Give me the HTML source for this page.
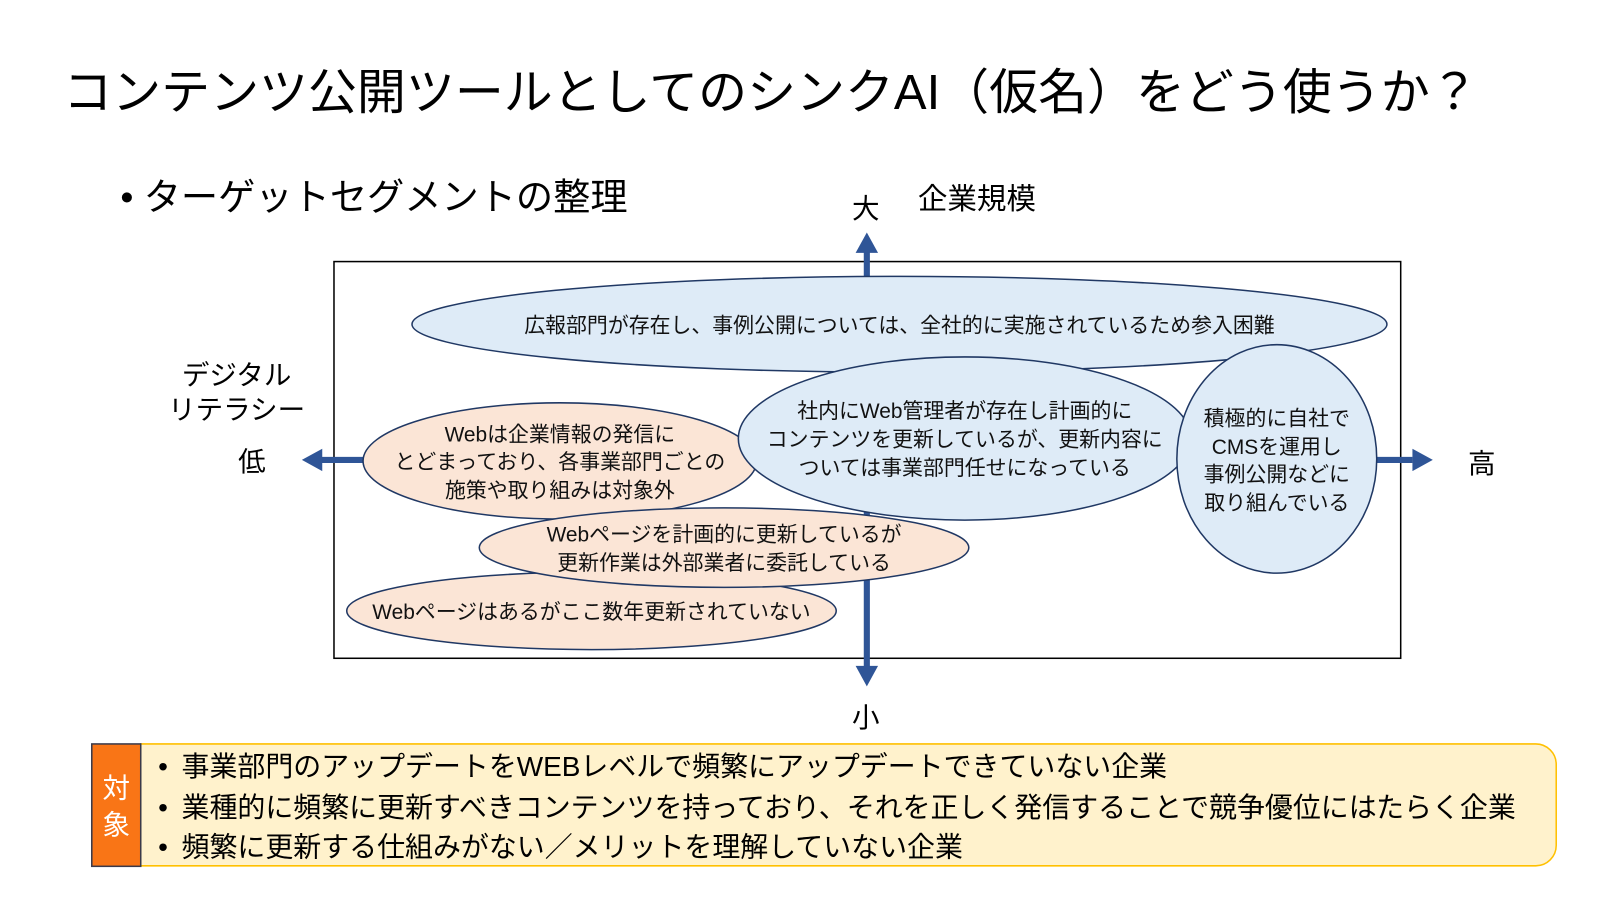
<!DOCTYPE html>
<html><head><meta charset="utf-8"><style>
body{margin:0;width:1600px;height:900px;background:#fff;overflow:hidden;position:relative;font-family:"Liberation Sans","Noto Sans CJK JP",sans-serif;color:#000}
#w{position:absolute;left:0;top:0;width:1570px;height:883px;transform:scale(1.0198);transform-origin:0 0}
.t{position:absolute;white-space:nowrap}
</style></head><body><div id="w">
<div class="t" style="left:62px;top:51px;font-size:48px;letter-spacing:0px">コンテンツ公開ツールとしてのシンクAI（仮名）をどう使うか？</div>
<div class="t" style="left:118px;top:164px;font-size:36.5px">• ターゲットセグメントの整理</div>
<svg width="1570" height="883" style="position:absolute;left:0;top:0" font-family="Liberation Sans, Noto Sans CJK JP, sans-serif">
<rect x="327.5" y="256.5" width="1046" height="389" fill="none" stroke="#000" stroke-width="1.5"/>
<g stroke="#2F5597" stroke-width="6" fill="#2F5597">
<line x1="850" y1="245" x2="850" y2="655"/>
<line x1="315" y1="451" x2="1385" y2="451"/>
</g>
<g fill="#2F5597">
<polygon points="850,228 839,248 861,248"/>
<polygon points="850,673 839,653 861,653"/>
<polygon points="296,451 316,440 316,462"/>
<polygon points="1405,451 1385,440 1385,462"/>
</g>
<g stroke="#203864" stroke-width="1.5">
<ellipse cx="882" cy="318" rx="478" ry="47" fill="#DEEBF7"/>
<ellipse cx="549" cy="452" rx="193" ry="57" fill="#FBE5D6"/>
<ellipse cx="580" cy="599" rx="240" ry="38" fill="#FBE5D6"/>
<ellipse cx="710" cy="537" rx="240" ry="39" fill="#FBE5D6"/>
<ellipse cx="946" cy="430" rx="222" ry="80" fill="#DEEBF7"/>
<ellipse cx="1252" cy="450" rx="98" ry="112" fill="#DEEBF7"/>
</g>
<g font-size="20.5" text-anchor="middle" fill="#111">
<text x="882" y="326">広報部門が存在し、事例公開については、全社的に実施されているため参入困難</text>
<text x="946" y="410">社内にWeb管理者が存在し計画的に</text>
<text x="946" y="438">コンテンツを更新しているが、更新内容に</text>
<text x="946" y="466">ついては事業部門任せになっている</text>
<text x="1252" y="417">積極的に自社で</text>
<text x="1252" y="445">CMSを運用し</text>
<text x="1252" y="472">事例公開などに</text>
<text x="1252" y="500">取り組んでいる</text>
<text x="549" y="433">Webは企業情報の発信に</text>
<text x="549" y="460">とどまっており、各事業部門ごとの</text>
<text x="549" y="488">施策や取り組みは対象外</text>
<text x="710" y="531">Webページを計画的に更新しているが</text>
<text x="710" y="559">更新作業は外部業者に委託している</text>
<text x="580" y="607">Webページはあるがここ数年更新されていない</text>
</g>
<g font-size="27" fill="#000">
<text x="849" y="214" text-anchor="middle">大</text>
<text x="900" y="205" font-size="29">企業規模</text>
<text x="849" y="713" text-anchor="middle">小</text>
<text x="232" y="377" text-anchor="middle">デジタル</text>
<text x="232" y="411" text-anchor="middle">リテラシー</text>
<text x="247" y="462" text-anchor="middle">低</text>
<text x="1453" y="464" text-anchor="middle">高</text>
</g>
<path d="M138,729.5 H1506 a20,20 0 0 1 20,20 V829 a20,20 0 0 1 -20,20 H138 Z" fill="#FFF2CC" stroke="#FFC000" stroke-width="1.5"/>
<rect x="90" y="729.5" width="48" height="120" fill="#F97516" stroke="#3A3A4A" stroke-width="1.5"/>
<text x="114" y="782" font-size="27" fill="#fff" text-anchor="middle">対</text>
<text x="114" y="818" font-size="27" fill="#fff" text-anchor="middle">象</text>
<g font-size="27.4" fill="#000">
<text x="155" y="761">•</text><text x="178" y="761">事業部門のアップデートをWEBレベルで頻繁にアップデートできていない企業</text>
<text x="155" y="801">•</text><text x="178" y="801">業種的に頻繁に更新すべきコンテンツを持っており、それを正しく発信することで競争優位にはたらく企業</text>
<text x="155" y="840">•</text><text x="178" y="840">頻繁に更新する仕組みがない／メリットを理解していない企業</text>
</g>
</svg>
</div></body></html>
